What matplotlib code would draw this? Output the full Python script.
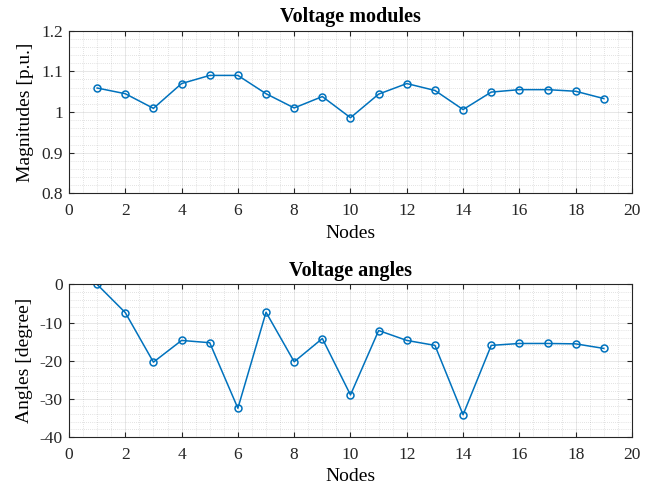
import numpy as np
import matplotlib
matplotlib.use("Agg")
import matplotlib.pyplot as plt
from matplotlib.ticker import MultipleLocator

nodes = list(range(1, 20))
v_mag = [1.059, 1.045, 1.009, 1.070, 1.090, 1.090, 1.045, 1.010, 1.038, 0.986,
         1.044, 1.070, 1.053, 1.006, 1.049, 1.055, 1.055, 1.051, 1.033]
v_ang = [0.0, -7.4, -20.4, -14.7, -15.3, -32.5, -7.3, -20.3, -14.2, -29.0,
         -12.1, -14.7, -16.0, -34.2, -16.0, -15.5, -15.5, -15.6, -16.8]

plt.rcParams['font.family'] = ['Liberation Serif', 'DejaVu Serif']
plt.rcParams['axes.unicode_minus'] = False

blue = '#0072BD'
fig = plt.figure(figsize=(6.52, 4.87), dpi=100)
ax1 = fig.add_axes([0.1058, 0.603, 0.8635, 0.334])
ax2 = fig.add_axes([0.1058, 0.103, 0.8635, 0.313])


def style(ax, ylim, ymaj, ymin):
    ax.set_xlim(0, 20)
    ax.set_ylim(*ylim)
    ax.xaxis.set_major_locator(MultipleLocator(2))
    ax.xaxis.set_minor_locator(MultipleLocator(0.5))
    ax.yaxis.set_major_locator(MultipleLocator(ymaj))
    ax.yaxis.set_minor_locator(MultipleLocator(ymin))
    ax.grid(which='major', color='#262626', alpha=0.13, linewidth=0.6)
    ax.grid(which='minor', color='#262626', alpha=0.25, linewidth=0.5,
            linestyle=(0, (1, 2)))
    ax.tick_params(which='major', direction='in', length=3.5, width=0.8,
                   top=True, right=True, labelsize=12.5, colors='#262626')
    ax.tick_params(axis='x', which='major', pad=7)
    ax.tick_params(axis='y', which='major', pad=4.5)
    ax.tick_params(which='minor', length=0)
    for s in ax.spines.values():
        s.set_color('#262626')
        s.set_linewidth(0.8)
    ax.set_axisbelow(True)


ax1.plot(nodes, v_mag, '-o', color=blue, linewidth=1.1, markersize=5,
         markerfacecolor='none', markeredgewidth=1.1)
style(ax1, (0.8, 1.2), 0.1, 0.02)
ax1.yaxis.set_major_formatter(plt.FuncFormatter(lambda v, p: f'{v:g}'))
ax1.set_title('Voltage modules', fontsize=14.5, fontweight='bold', pad=6)
ax1.set_xlabel('Nodes', fontsize=14, labelpad=4)
ax1.set_ylabel('Magnitudes [p.u.]', fontsize=14, labelpad=5)

ax2.plot(nodes, v_ang, '-o', color=blue, linewidth=1.1, markersize=5,
         markerfacecolor='none', markeredgewidth=1.1)
style(ax2, (-40, 0), 10, 2)
ax2.set_title('Voltage angles', fontsize=14.5, fontweight='bold', pad=6)
ax2.set_xlabel('Nodes', fontsize=14, labelpad=4)
ax2.set_ylabel('Angles [degree]', fontsize=14, labelpad=5)

fig.savefig('out.png', dpi=100)
